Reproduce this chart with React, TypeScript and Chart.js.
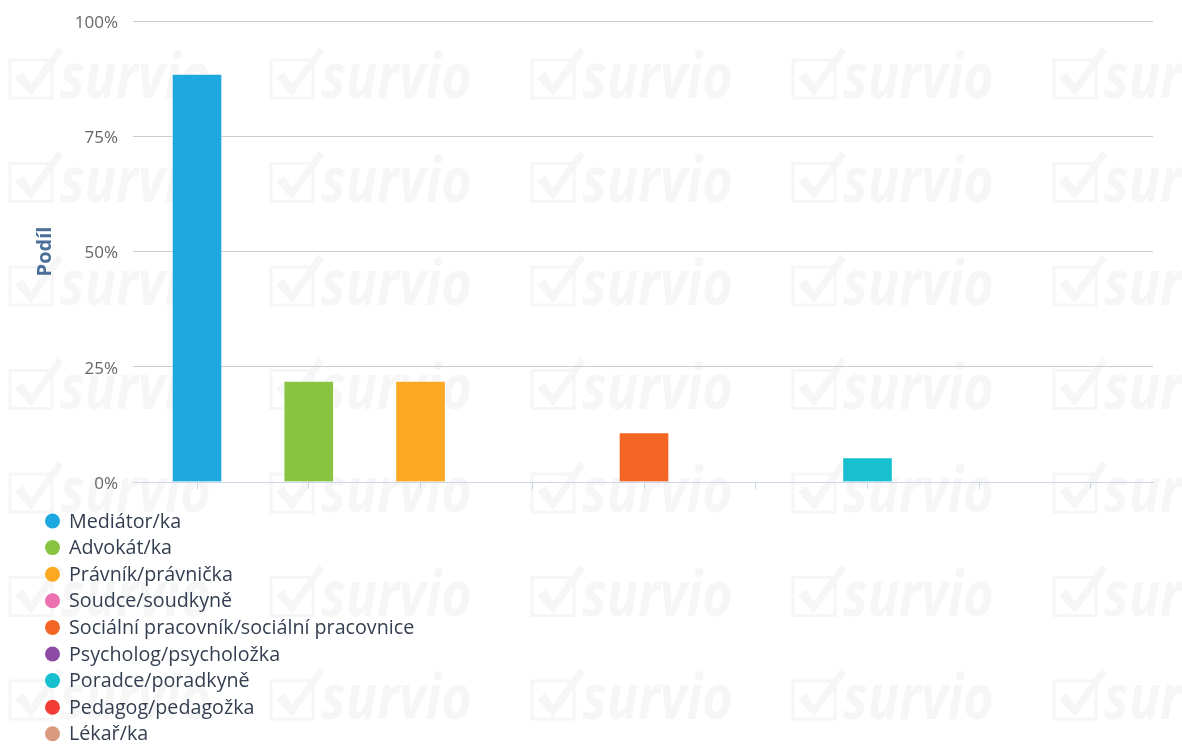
import React, { useEffect, useRef } from "react";
import { Chart, registerables } from "chart.js";

Chart.register(...registerables);

const categories = [
  "Mediátor/ka",
  "Advokát/ka",
  "Právník/právnička",
  "Soudce/soudkyně",
  "Sociální pracovník/sociální pracovnice",
  "Psycholog/psycholožka",
  "Poradce/poradkyně",
  "Pedagog/pedagožka",
  "Lékař/ka",
];
const shares = [88.5, 21.9, 21.9, 0, 10.7, 0, 5.3, 0, 0];
const colors = [
  "#1ea8e0",
  "#88c440",
  "#fca822",
  "#ec6fb0",
  "#f26522",
  "#8e4ba6",
  "#18bfce",
  "#f23d37",
  "#d89b7d",
];
const yTicks = [0, 25, 50, 75, 100];
const yTitle = "Podíl";
const watermarkText = "survio";

const watermarkPlugin = {
  id: "watermark",
  beforeDraw(chart: any) {
    const ctx = chart.ctx;
    ctx.save();
    ctx.fillStyle = "#f6f6f6";
    ctx.strokeStyle = "#f6f6f6";
    for (let c = 0; c < 5; c++) {
      for (let r = 0; r < 7; r++) {
        const x0 = 10 + 261 * c;
        const b = 98 + 103.5 * r;
        ctx.lineWidth = 3;
        ctx.strokeRect(x0, b - 38, 42, 38);
        ctx.beginPath();
        ctx.moveTo(x0 + 5, b - 20);
        ctx.lineTo(x0 + 13, b - 26);
        ctx.lineTo(x0 + 21, b - 14);
        ctx.lineTo(x0 + 48, b - 51);
        ctx.lineTo(x0 + 53, b - 46);
        ctx.lineTo(x0 + 21, b - 2);
        ctx.closePath();
        ctx.fill();
        ctx.save();
        ctx.translate(x0 + 50, b);
        ctx.scale(0.84, 1);
        ctx.font = "italic bold 62px 'Open Sans'";
        ctx.textBaseline = "alphabetic";
        ctx.fillText(watermarkText, 0, 0);
        ctx.restore();
      }
    }
    ctx.restore();
  },
};

const legendPlugin = {
  id: "vlegend",
  afterDraw(chart: any) {
    const ctx = chart.ctx;
    ctx.save();
    ctx.font = "19.7px 'Open Sans'";
    ctx.textBaseline = "middle";
    ctx.textAlign = "left";
    categories.forEach((label, i) => {
      const y = 521 + i * 26.6;
      ctx.fillStyle = colors[i];
      ctx.beginPath();
      ctx.arc(52.5, y, 7.5, 0, Math.PI * 2);
      ctx.fill();
      ctx.fillStyle = "#333e50";
      ctx.fillText(label, 69, y + 1);
    });
    ctx.restore();
  },
};

export default function App() {
  const ref = useRef<HTMLCanvasElement>(null);
  useEffect(() => {
    if (!ref.current) return;
    const chart = new Chart(ref.current, {
      type: "bar",
      data: {
        datasets: [
          {
            label: yTitle,
            data: shares.map((v, i) => ({ x: i, y: v })),
            backgroundColor: colors,
            borderColor: "rgba(255,255,255,0.6)",
            borderWidth: 1,
            barThickness: 50,
          },
        ],
      },
      options: {
        animation: false,
        responsive: false,
        maintainAspectRatio: false,
        layout: { padding: { left: 0, right: 29, top: 21, bottom: 0 } },
        plugins: { legend: { display: false }, tooltip: { enabled: false } },
        scales: {
          x: {
            type: "linear",
            offset: false,
            min: -0.573,
            max: 8.555,
            afterFit: (s: any) => {
              s.height = 263;
              s.paddingLeft = 0;
              s.paddingRight = 0;
            },
            ticks: { display: false, stepSize: 1, includeBounds: false },
            grid: {
              offset: false,
              drawOnChartArea: false,
              drawTicks: true,
              tickLength: 7,
              color: "#ccd6eb",
            },
            border: { display: true, color: "#ccd6eb", width: 1 },
          },
          y: {
            min: 0,
            max: 100,
            afterFit: (s: any) => {
              s.width = 133;
              s.paddingTop = 0;
              s.paddingBottom = 0;
            },
            afterBuildTicks: (s: any) => {
              s.ticks = yTicks.map((v) => ({ value: v }));
            },
            ticks: {
              padding: 15,
              color: "#666666",
              font: { family: "'Open Sans'", size: 17 },
              labelOffset: 2,
              callback: (v: any) => v + "%",
            },
            grid: {
              drawTicks: false,
              color: (c: any) => (c.tick && c.tick.value === 0 ? "rgba(0,0,0,0)" : "#cccccc"),
            },
            border: { display: false },
            title: {
              display: true,
              text: yTitle,
              color: "#4b6f99",
              font: { family: "'Open Sans'", size: 20, weight: "bold" },
              padding: { top: 33, bottom: 0 },
            },
          },
        },
      },
      plugins: [watermarkPlugin, legendPlugin],
    });
    return () => chart.destroy();
  }, []);
  return (
    <div style={{ position: "fixed", left: 0, top: 0, width: 1182, height: 745, background: "#fff" }}>
      <canvas ref={ref} width={1182} height={745} style={{ width: 1182, height: 745 }} />
    </div>
  );
}
